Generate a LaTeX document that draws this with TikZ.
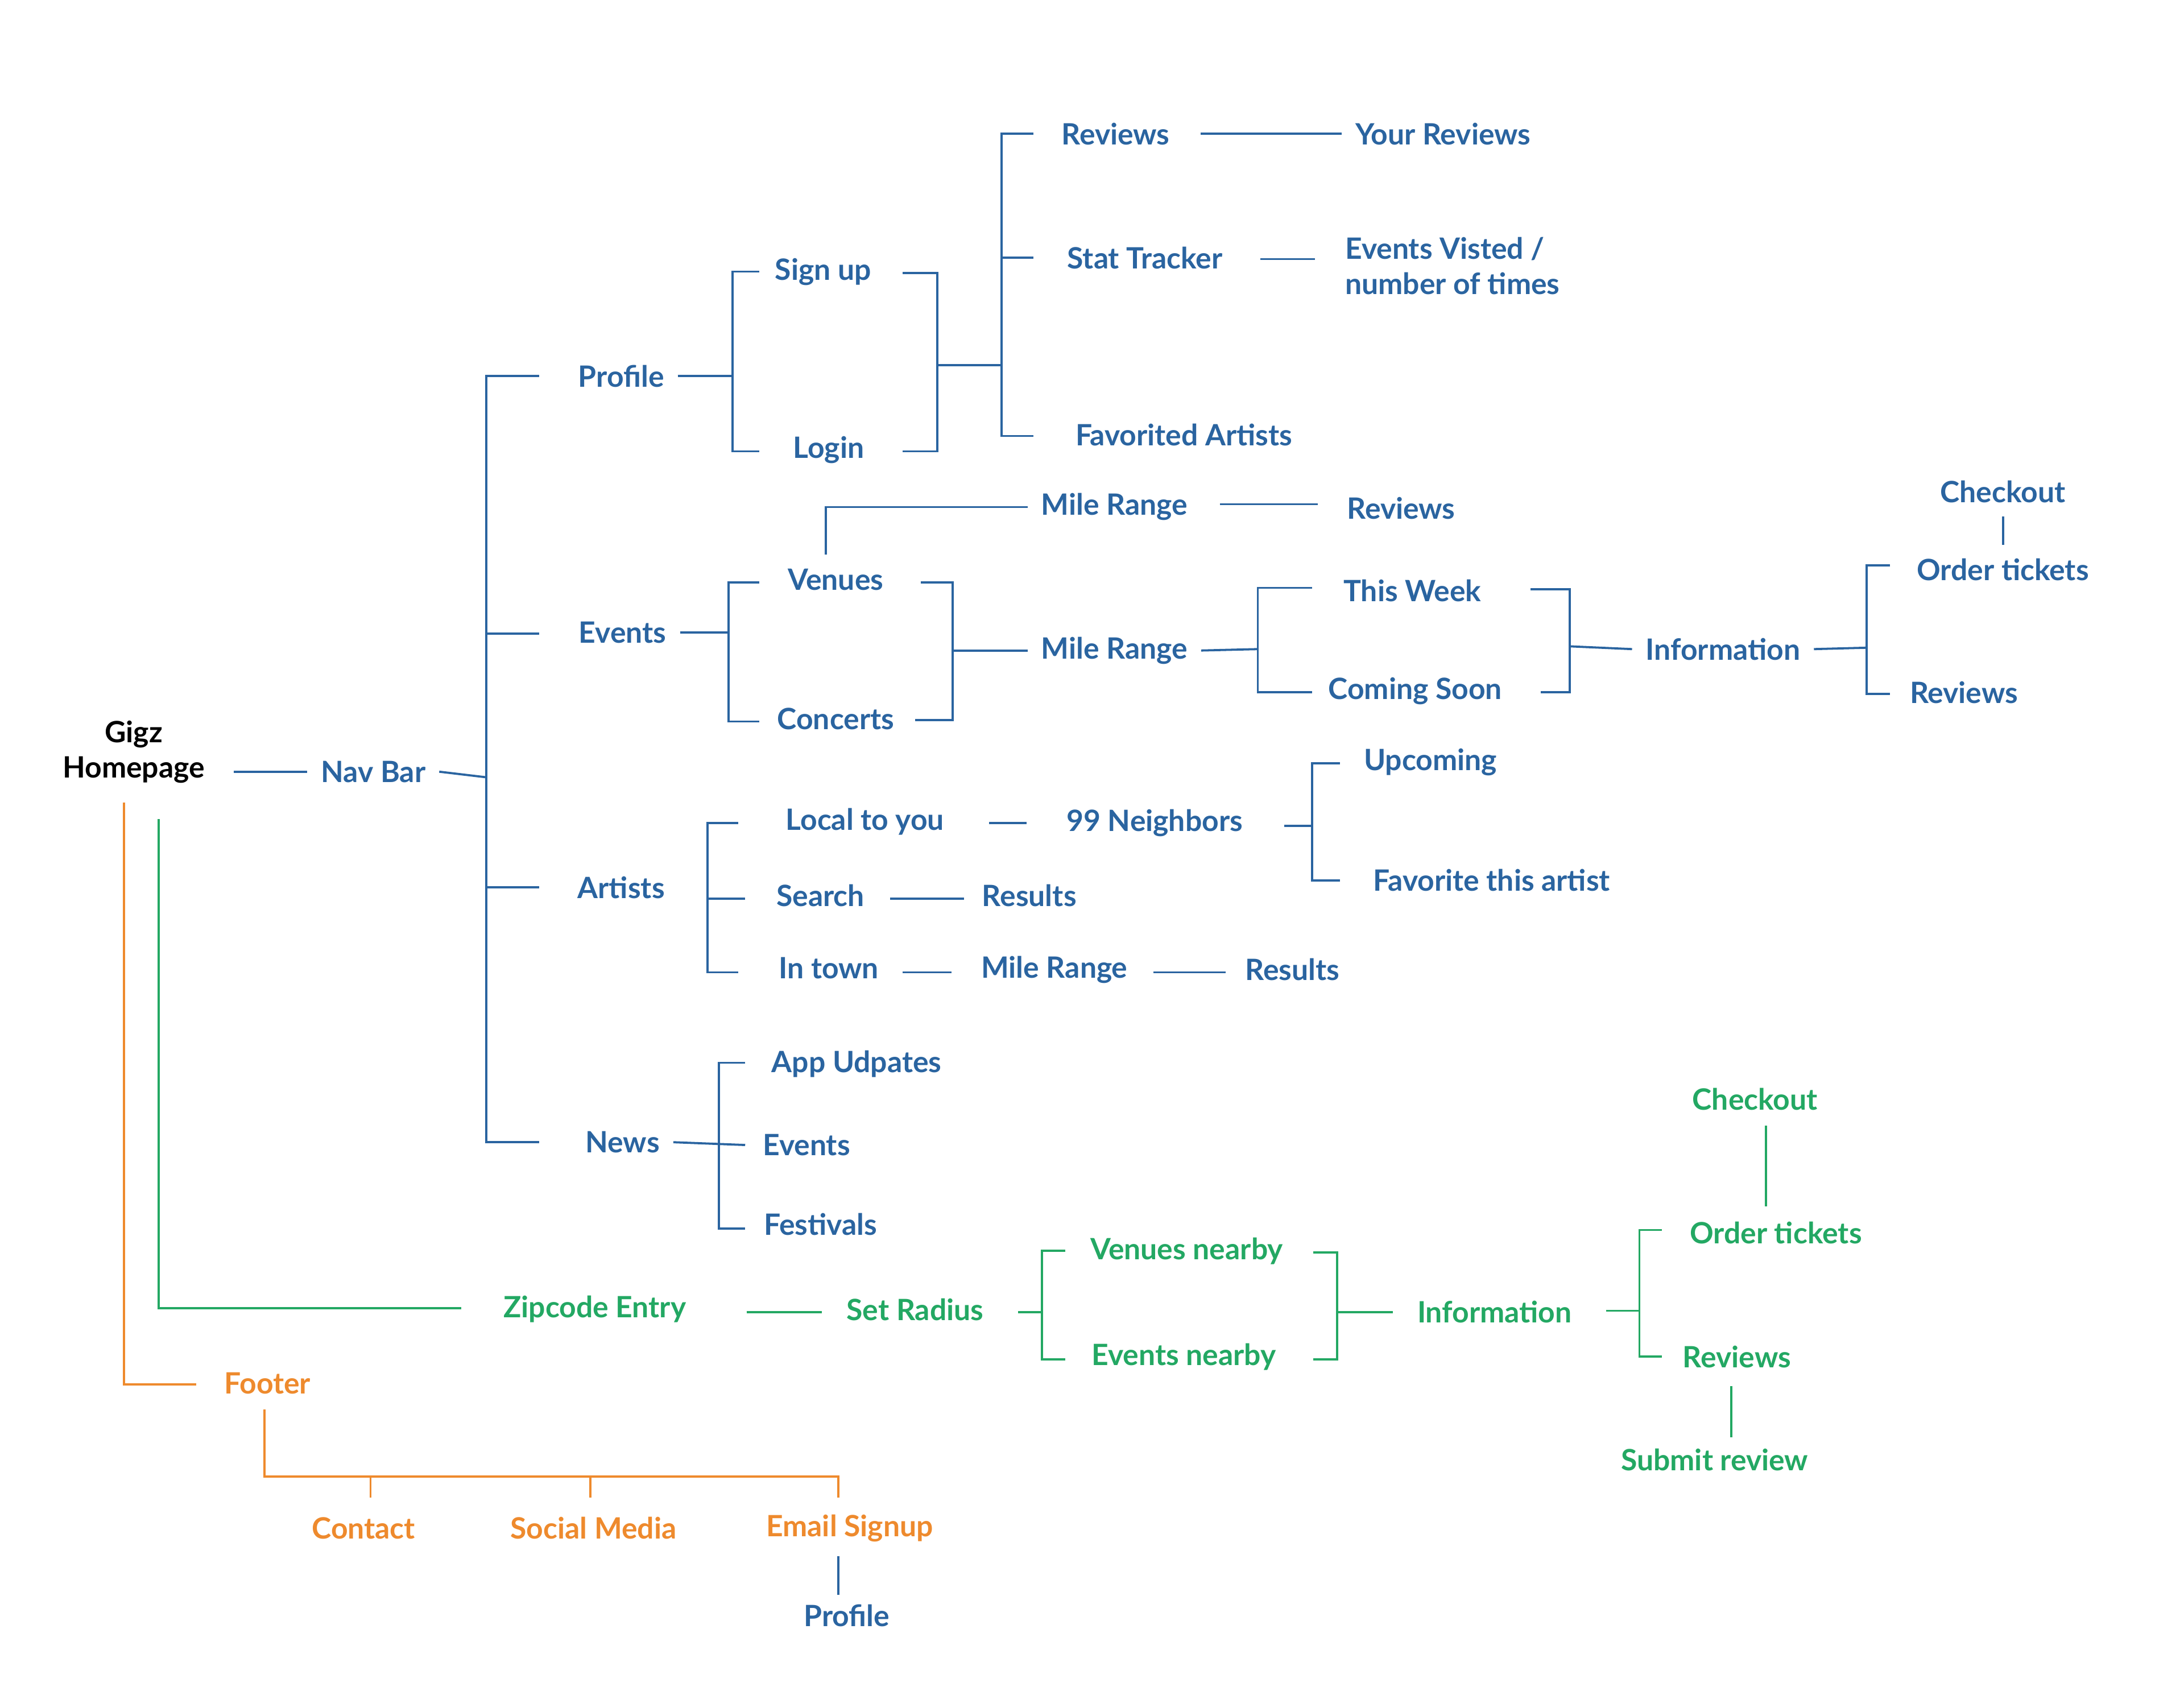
\documentclass[tikz,border=0pt]{standalone}
\usepackage{fontspec}
\setmainfont{Lato}
\definecolor{navblue}{HTML}{2A64A0}
\definecolor{zipgreen}{HTML}{23A863}
\definecolor{footorange}{HTML}{EE8A2D}
\tikzset{
	lbl/.style={font=\bfseries\fontsize{15}{18}\selectfont, inner sep=1pt, outer sep=6pt, align=center},
	bl/.style={lbl, text=navblue},
	gr/.style={lbl, text=zipgreen},
	og/.style={lbl, text=footorange},
	bline/.style={draw=navblue, line width=1.1pt},
	gline/.style={draw=zipgreen, line width=1.1pt},
	oline/.style={draw=footorange, line width=1.1pt}
}
\begin{document}
\begin{tikzpicture}[x=0.025cm, y=-0.025cm]
	\useasboundingbox (0,0) rectangle (1568,1211);
	
	% root
	\node[lbl] (home) at (96,540) {Gigz\\Homepage};
	\node[bl] (navbar) at (268,554) {Nav Bar};
	\draw[bline] (168,554) -- (navbar.west);
	
	% nav bar trunk
	\draw[bline] (navbar.east) -- (349,558);
	\draw[bline] (387,270) -- (349,270) -- (349,820) -- (387,820);
	\draw[bline] (349,455) -- (387,455);
	\draw[bline] (349,637) -- (387,637);
	\node[bl] (profile) at (446,270) {Profile};
	\node[bl] (events) at (447,454) {Events};
	\node[bl] (artists) at (446,637) {Artists};
	\node[bl] (news) at (447,820) {News};
	
	% profile
	\node[bl] (signup) at (591,195) {Sign up};
	\node[bl] (login) at (595,323) {Login};
	\draw[bline] (profile.east) -- (526,270);
	\draw[bline] (545,195) -- (526,195) -- (526,324) -- (545,324);
	\draw[bline] (648,196) -- (673,196) -- (673,324) -- (648,324);
	\draw[bline] (673,262) -- (719,262);
	\draw[bline] (742,96) -- (719,96) -- (719,313) -- (742,313);
	\draw[bline] (719,185) -- (742,185);
	\node[bl] (reviews) at (801,96) {Reviews};
	\node[bl] (stats) at (822,185) {Stat Tracker};
	\node[bl] (favart) at (850,312) {Favorited Artists};
	\node[bl] (yourrev) at (1036,96) {Your Reviews};
	\node[bl, align=left, anchor=west] (visited) at (956,191) {Events Visted /\\number of times};
	\draw[bline] (862,96) -- (yourrev.west);
	\draw[bline] (905,186) -- (944,186);
	
	% events
	\node[bl] (venues) at (600,416) {Venues};
	\node[bl] (concerts) at (600,516) {Concerts};
	\draw[bline] (events.east) -- (523,454);
	\draw[bline] (545,418) -- (523,418) -- (523,518) -- (545,518);
	\node[bl] (vrange) at (800,364) {Mile Range};
	\node[bl] (vreviews) at (1006,365) {Reviews};
	\draw[bline] (593,398) -- (593,364) -- (vrange.west);
	\draw[bline] (876,362) -- (946,362);
	\draw[bline] (661,418) -- (684,418) -- (684,517) -- (657,517);
	\node[bl] (crange) at (800,467) {Mile Range};
	\draw[bline] (684,467) -- (crange.west);
	\draw[bline] (crange.east) -- (903,466);
	\draw[bline] (942,422) -- (903,422) -- (903,497) -- (942,497);
	\node[bl] (thisweek) at (1014,424) {This Week};
	\node[bl] (soon) at (1016,496) {Coming Soon};
	\draw[bline] (1099,423) -- (1127,423) -- (1127,497) -- (1106,497);
	\node[bl] (einfo) at (1237,466) {Information};
	\draw[bline] (1127,464) -- (einfo.west);
	\draw[bline] (einfo.east) -- (1340,465);
	\draw[bline] (1357,406) -- (1340,406) -- (1340,498) -- (1357,498);
	\node[bl] (eorder) at (1438,409) {Order tickets};
	\node[bl] (ereviews) at (1410,497) {Reviews};
	\node[bl] (echeckout) at (1438,353) {Checkout};
	\draw[bline] (echeckout.south) -- (eorder.north);
	
	% artists
	\draw[bline] (530,591) -- (508,591) -- (508,698) -- (530,698);
	\draw[bline] (508,645) -- (535,645);
	\node[bl] (local) at (621,590) {Local to you};
	\node[bl] (neighbors) at (829,591) {99 Neighbors};
	\draw[bline] (710,591) -- (737,591);
	\draw[bline] (922,593) -- (942,593);
	\draw[bline] (962,548) -- (942,548) -- (942,632) -- (962,632);
	\node[bl] (upcoming) at (1027,547) {Upcoming};
	\node[bl] (favthis) at (1071,632) {Favorite this artist};
	\node[bl] (search) at (589,643) {Search};
	\node[bl] (sresults) at (739,643) {Results};
	\draw[bline] (639,645) -- (692,645);
	\node[bl] (intown) at (595,695) {In town};
	\node[bl] (trange) at (757,696) {Mile Range};
	\node[bl] (tresults) at (928,696) {Results};
	\draw[bline] (648,698) -- (683,698);
	\draw[bline] (828,698) -- (880,698);
	
	% news
	\draw[bline] (news.east) -- (535,822);
	\draw[bline] (535,763) -- (516,763) -- (516,882) -- (535,882);
	\node[bl] (appupd) at (615,764) {App Udpates};
	\node[bl] (nevents) at (579,822) {Events};
	\node[bl] (festivals) at (589,879) {Festivals};
	
	% zipcode
	\node[gr] (zip) at (427,940) {Zipcode Entry};
	\draw[gline] (114,588) -- (114,939) -- (331,939);
	\node[gr] (radius) at (657,940) {Set Radius};
	\draw[gline] (536,942) -- (590,942);
	\draw[gline] (731,942) -- (748,942);
	\draw[gline] (765,898) -- (748,898) -- (748,976) -- (765,976);
	\node[gr] (vnear) at (852,898) {Venues nearby};
	\node[gr] (enear) at (850,974) {Events nearby};
	\draw[gline] (943,899) -- (960,899) -- (960,976) -- (943,976);
	\node[gr] (ginfo) at (1073,942) {Information};
	\draw[gline] (960,942) -- (1000,942);
	\draw[gline] (1153,941) -- (1177,941);
	\draw[gline] (1193,883) -- (1177,883) -- (1177,974) -- (1193,974);
	\node[gr] (gorder) at (1275,885) {Order tickets};
	\node[gr] (greviews) at (1247,974) {Reviews};
	\node[gr] (gcheckout) at (1260,789) {Checkout};
	\draw[gline] (1268,808) -- (1268,866);
	\node[gr] (submit) at (1231,1048) {Submit review};
	\draw[gline] (1243,995) -- (1243,1032);
	
	% footer
	\node[og] (footer) at (192,993) {Footer};
	\draw[oline] (89,576) -- (89,994) -- (141,994);
	\draw[oline] (190,1012) -- (190,1060) -- (602,1060) -- (602,1075);
	\draw[oline] (266,1060) -- (266,1075);
	\draw[oline] (424,1060) -- (424,1075);
	\node[og] (contact) at (261,1097) {Contact};
	\node[og] (social) at (426,1097) {Social Media};
	\node[og] (email) at (610,1097) {Email Signup};
	\node[bl] (fprofile) at (608,1160) {Profile};
	\draw[bline] (602,1117) -- (602,1145);
\end{tikzpicture}
\end{document}
